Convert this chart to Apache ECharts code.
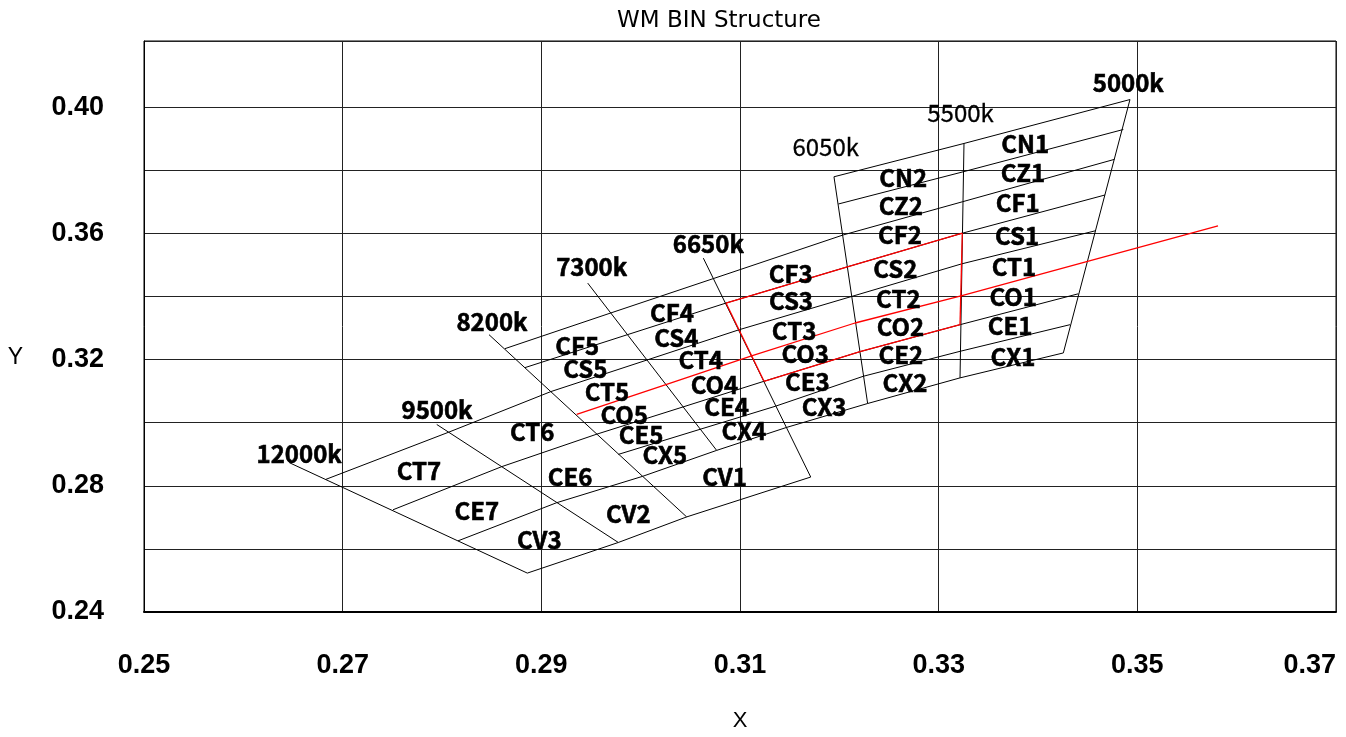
<!DOCTYPE html>
<html><head><meta charset="utf-8">
<script src="https://cdn.jsdelivr.net/npm/echarts@6.0.0/dist/echarts.min.js"></script>
<style>html,body{margin:0;padding:0;background:#fff}#chart{width:1346px;height:737px}</style>
</head><body><div id="chart"></div>
<script>
// ---- isotemperature (CCT) lines ----
const cctNames = ['12000k','9500k','8200k','7300k','6650k','6050k','5500k','5000k'];
const cctTop = [[0.26463,0.28734],[0.27947,0.29945],[0.28473,0.32791],[0.29467,0.34425],[0.30631,0.35216],[0.31946,0.37796],[0.33255,0.38852],[0.34926,0.40244]];
const cctBottom = [[0.28859,0.25233],[0.29775,0.26204],[0.30463,0.27014],[0.30765,0.29123],[0.31712,0.28278],[0.32285,0.30609],[0.33215,0.31421],[0.34255,0.32212]];
const cctLabelX = [0.26562,0.27950,0.28503,0.29507,0.30681,0.31863,0.33220,0.34909];
const cctLabelY = [0.29021,0.30394,0.33186,0.34925,0.35662,0.38757,0.39820,0.40775];

// ---- bin row boundaries (points where they cross the CCT lines) ----
const rowTop    = [[0.31946,0.37796],[0.33255,0.38852],[0.34926,0.40244]];
const rowNZ     = [[0.31990,0.36933],[0.33248,0.37955],[0.34859,0.39295]];
const rowZF     = [[0.28634,0.32348],[0.29700,0.33480],[0.30731,0.34568],[0.32040,0.35953],[0.33242,0.37006],[0.34768,0.38347]];
const rowFS     = [[0.28836,0.31747],[0.29867,0.32791],[0.30859,0.33793],[0.32090,0.34950],[0.33238,0.36007],[0.34674,0.37218]];
const rowST     = [[0.26832,0.28206],[0.28066,0.29698],[0.29097,0.30988],[0.30064,0.31988],[0.30993,0.32949],[0.32124,0.34002],[0.33232,0.35036],[0.34584,0.36089]];
const rowTO     = [[0.29356,0.30261],[0.30254,0.31210],[0.31124,0.32127],[0.32158,0.33161],[0.33225,0.34024],[0.34490,0.35109],[0.35812,0.36237]];
const rowOE     = [[0.27507,0.27241],[0.28601,0.28607],[0.29550,0.29629],[0.30427,0.30501],[0.31242,0.31314],[0.32208,0.32253],[0.33215,0.33107],[0.34406,0.34087]];
const rowEX     = [[0.29775,0.28996],[0.30600,0.29793],[0.31357,0.30523],[0.32241,0.31472],[0.33215,0.32263],[0.34322,0.33107]];
const rowXV     = [[0.28161,0.26255],[0.29153,0.27463],[0.30019,0.28300],[0.30765,0.29123],[0.31468,0.29850],[0.32285,0.30609],[0.33215,0.31421],[0.34255,0.32212]];
const rowBottom = [[0.28859,0.25233],[0.29775,0.26204],[0.30463,0.27014],[0.31712,0.28278]];

// ---- bin names and label positions ----
const binNames = ['CN1','CZ1','CF1','CS1','CT1','CO1','CE1','CX1',
  'CN2','CZ2','CF2','CS2','CT2','CO2','CE2','CX2',
  'CF3','CS3','CT3','CO3','CE3','CX3',
  'CF4','CS4','CT4','CO4','CE4','CX4',
  'CF5','CS5','CT5','CO5','CE5','CX5',
  'CT6','CE6','CT7','CE7','CV1','CV2','CV3'];
const binX = [0.33872,0.33849,0.33796,0.33789,0.33758,0.33751,0.33718,0.33748,
  0.32644,0.32619,0.32611,0.32564,0.32594,0.32616,0.32618,0.32661,
  0.31511,0.31513,0.31544,0.31657,0.31678,0.31846,
  0.30315,0.30359,0.30605,0.30743,0.30866,0.31038,
  0.29362,0.29443,0.29661,0.29834,0.30005,0.30243,
  0.28908,0.29289,0.27768,0.28350,0.30844,0.29876,0.28980];
const binY = [0.38824,0.37913,0.36964,0.35921,0.34950,0.33976,0.33075,0.32095,
  0.37771,0.36870,0.35953,0.34877,0.33929,0.33028,0.32158,0.31273,
  0.34719,0.33872,0.32923,0.32190,0.31304,0.30514,
  0.33493,0.32686,0.32006,0.31210,0.30498,0.29745,
  0.32449,0.31709,0.30972,0.30251,0.29619,0.28971,
  0.29708,0.28285,0.28459,0.27203,0.28285,0.27099,0.26277];

// ---- axis ticks ----
const xTickStart = 0.25, xTickEnd = 0.37, xTickStep = 0.02;
const yTickStart = 0.24, yTickEnd = 0.421, yTickStep = 0.02;
const yLabelled = [0.24,0.28,0.32,0.36,0.40];

// ---- red highlight (pieces of the boundary arrays) ----
const redTop = rowFS.slice(2,5);
const redBottom = rowOE.slice(4,7);
const redLeft = [rowFS[2], rowOE[4]];
const redRight = [rowFS[4], rowOE[6]];

const BLACK = {color:'#000', width:1};
const RED = {color:'#ff0000', width:1.3};
function lineSeries(data, style, z){
  return {type:'line', data:data, symbol:'none', silent:true, animation:false,
          lineStyle:style, z:z||3, clip:false};
}
const series = [];
cctNames.forEach((n,i)=>series.push(lineSeries([cctTop[i], cctBottom[i]], BLACK)));
[rowTop,rowNZ,rowZF,rowFS,rowST,rowOE,rowEX,rowXV,rowBottom].forEach(r=>series.push(lineSeries(r, BLACK)));
[rowTO, redTop, redBottom, redLeft, redRight].forEach(r=>series.push(lineSeries(r, RED, 4)));

const LABEL_FONT = 'Noto Sans CJK KR';
const lightCct = {'5500k':true,'6050k':true};
const labelBase = {show:true, position:'inside', formatter:p=>p.name, color:'#000', fontSize:24,
         fontFamily:LABEL_FONT, fontWeight:'bold', textBorderColor:'#000', textBorderWidth:0.6, opacity:1};
series.push({type:'scatter', silent:true, animation:false, symbolSize:1, itemStyle:{color:'#fff'}, z:6,
  data: cctNames.map((n,i)=>({value:[cctLabelX[i], cctLabelY[i]], name:n,
    label: lightCct[n] ? {fontWeight:'normal', textBorderWidth:0.3} : {}})),
  label:labelBase,
  labelLayout:{hideOverlap:false}
});
series.push({type:'scatter', silent:true, animation:false, symbolSize:1, itemStyle:{color:'#fff'}, z:6,
  data: binNames.map((n,i)=>({value:[binX[i], binY[i]], name:n})),
  label:labelBase,
  labelLayout:{hideOverlap:false}
});

// split-line colours: hide the 0.42 line that would sit just under the top border
const yCount = Math.round((yTickEnd - yTickStart)/yTickStep);
const ySplitColors = [];
for (let i=0;i<=yCount+1;i++) ySplitColors.push(i===yCount ? 'rgba(0,0,0,0)' : '#222');

const chart = echarts.init(document.getElementById('chart'), null, {renderer:'canvas'});
chart.setOption({
  animation:false,
  backgroundColor:'#fff',
  title:{text:'WM BIN Structure', left:612, top:5,
    textStyle:{fontSize:23, fontWeight:'normal', color:'#000', fontFamily:'DejaVu Sans'}},
  grid:{left:144, right:10, top:41, bottom:124, show:true, borderColor:'#000', borderWidth:1},
  xAxis:{type:'value', min:xTickStart, max:xTickEnd, interval:xTickStep,
    name:'X', nameLocation:'middle', nameGap:98,
    nameTextStyle:{fontSize:22, color:'#000', fontFamily:'Liberation Sans'},
    axisLine:{show:true, lineStyle:{color:'#000', width:2}},
    axisTick:{show:false},
    splitLine:{show:true, lineStyle:{color:'#222', width:1}},
    axisLabel:{fontSize:27, fontWeight:'bold', color:'#000', fontFamily:'Liberation Sans', margin:40,
      alignMaxLabel:'right', formatter:v=>v.toFixed(2)}},
  yAxis:{type:'value', min:yTickStart, max:yTickEnd, interval:yTickStep,
    name:'{n|Y}', nameLocation:'middle', nameGap:121, nameRotate:0,
    nameTextStyle:{fontSize:23, color:'#000', fontFamily:'Liberation Sans',
      rich:{n:{fontSize:23, color:'#000', fontFamily:'Liberation Sans', padding:[62,0,0,0]}}},
    axisLine:{show:true, lineStyle:{color:'#000', width:1}},
    axisTick:{show:false},
    splitLine:{show:true, lineStyle:{color:ySplitColors, width:1}},
    axisLabel:{fontSize:27, fontWeight:'bold', color:'#000', fontFamily:'Liberation Sans', margin:40,
      formatter:v=>{ return yLabelled.some(t=>Math.abs(t-v)<1e-6) ? v.toFixed(2) : ''; }}},
  series:series
});
</script></body></html>
